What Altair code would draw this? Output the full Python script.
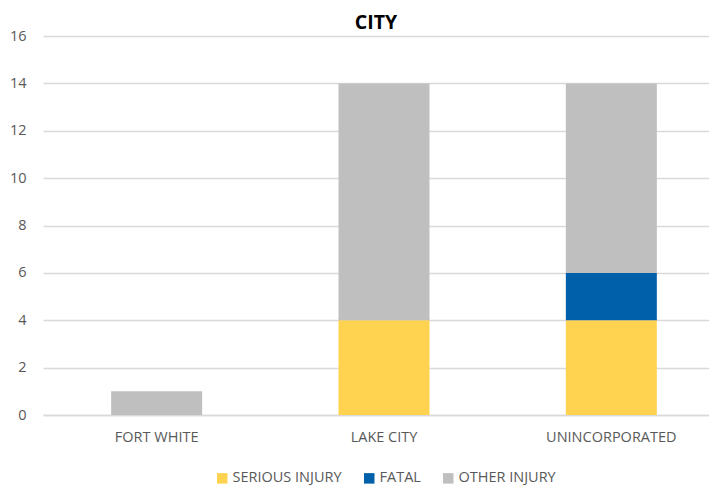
import altair as alt
import pandas as pd

cities = ["FORT WHITE", "LAKE CITY", "UNINCORPORATED"]
types = ["SERIOUS INJURY", "FATAL", "OTHER INJURY"]
serious = [0, 4, 4]
fatal = [0, 0, 2]
other = [1, 10, 8]
colors = ["#FFD34F", "#0060A9", "#BFBFBF"]

rows = []
for i, c in enumerate(cities):
    for k, (t, vals) in enumerate(zip(types, [serious, fatal, other])):
        rows.append({"city": c, "type": t, "count": vals[i], "ord": k})
df = pd.DataFrame(rows)

font = "Open Sans"

chart = alt.Chart(df).mark_bar(size=91).encode(
    x=alt.X("city:N", sort=cities, title=None,
            scale=alt.Scale(range=[0, 682], paddingInner=0.6, paddingOuter=0.3),
            axis=alt.Axis(labelAngle=0, ticks=False, domainColor="#D9D9D9", domainWidth=1.5,
                          labelFontSize=14.5, labelColor="#595959", labelFont=font, labelPadding=15)),
    y=alt.Y("sum(count):Q", title=None, stack="zero",
            scale=alt.Scale(domain=[0, 16]),
            axis=alt.Axis(values=list(range(0, 17, 2)), ticks=False, domain=False,
                          gridColor="#D9D9D9", gridWidth=1.5, labelFontSize=14.5,
                          labelColor="#595959", labelFont=font, labelPadding=17)),
    color=alt.Color("type:N", sort=types,
                    scale=alt.Scale(domain=types, range=colors),
                    legend=alt.Legend(title=None, orient="none", direction="horizontal",
                                      legendX=172, legendY=435,
                                      symbolType="square", symbolSize=110, symbolStrokeWidth=0,
                                      labelFontSize=14.5, labelColor="#595959", labelFont=font,
                                      columnPadding=20, labelOffset=3)),
    order=alt.Order("ord:Q"),
).properties(
    width=666, height=379,
    title=alt.TitleParams("CITY", fontSize=19.5, font=font, fontWeight="bold", color="#000000",
                          anchor="middle", offset=-5),
    autosize=alt.AutoSizeParams(type="none"),
    padding={"left": 35, "top": 28, "right": 0, "bottom": 74},
).configure_view(stroke=None)

chart.save("out.html", embed_options={"renderer": "svg", "actions": False})
